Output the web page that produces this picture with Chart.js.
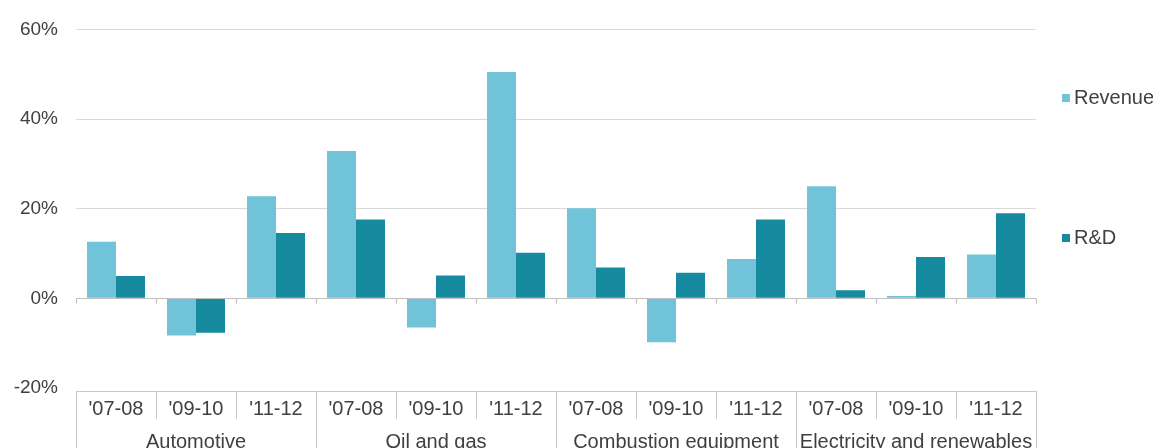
<!DOCTYPE html>
<html>
<head>
<meta charset="utf-8">
<title>Revenue and R&amp;D growth</title>
<script src="https://cdn.jsdelivr.net/npm/chart.js@4.4.0/dist/chart.umd.min.js"></script>
<style>
    body { margin: 0; background: #fff; }
    canvas { display: block; }
</style>
</head>
<body>
<canvas id="myChart" width="1153" height="448"></canvas>
<script>
// Kategorien und Werte
const periods = ["'07-08", "'09-10", "'11-12"];
const groups = ['Automotive', 'Oil and gas', 'Combustion equipment', 'Electricity and renewables'];
const revenue = [12.6, -8.3, 22.8, 32.9, -6.5, 50.5, 20.1, -9.8, 8.8, 25.0, 0.5, 9.8];
const rnd = [5.0, -7.7, 14.6, 17.6, 5.1, 10.2, 6.9, 5.7, 17.6, 1.8, 9.2, 19.0];
const yTicks = [-20, 0, 20, 40, 60];

const labels = [];
groups.forEach(g => periods.forEach(p => labels.push(p)));

const textColor = '#404040';
const lineColor = '#d9d9d9';
const font = '20px "Liberation Sans", Arial, sans-serif';

// Nulllinie mit Teilstrichen
const zeroAxis = {
    id: 'zeroAxis',
    afterDatasetsDraw(chart) {
        const { ctx, chartArea, scales } = chart;
        const y0 = Math.round(scales.y.getPixelForValue(0)) + 0.5;
        const step = (chartArea.right - chartArea.left) / labels.length;
        ctx.save();
        ctx.strokeStyle = '#bfbfbf';
        ctx.lineWidth = 1;
        ctx.beginPath();
        ctx.moveTo(chartArea.left, y0);
        ctx.lineTo(chartArea.right, y0);
        for (let i = 0; i <= labels.length; i++) {
            const x = Math.round(chartArea.left + i * step) + 0.5;
            ctx.moveTo(x, y0);
            ctx.lineTo(x, y0 + 5);
        }
        ctx.stroke();
        ctx.restore();
    }
};

// Zweistufige Kategorieachse als Tabelle
const categoryTable = {
    id: 'categoryTable',
    afterDraw(chart) {
        const { ctx, chartArea } = chart;
        const step = (chartArea.right - chartArea.left) / labels.length;
        const top = chartArea.bottom + 3;
        const mid = top + 28;
        const bottom = chart.height;
        ctx.save();
        ctx.strokeStyle = '#c8c8c8';
        ctx.lineWidth = 1;
        ctx.beginPath();
        ctx.moveTo(chartArea.left, top + 0.5);
        ctx.lineTo(chartArea.right, top + 0.5);
        for (let i = 0; i <= labels.length; i++) {
            const x = Math.round(chartArea.left + i * step) + 0.5;
            ctx.moveTo(x, top);
            ctx.lineTo(x, i % periods.length === 0 ? bottom : mid);
        }
        ctx.stroke();

        ctx.fillStyle = textColor;
        ctx.font = font;
        ctx.textAlign = 'center';
        ctx.textBaseline = 'middle';
        labels.forEach((l, i) => {
            ctx.fillText(l, chartArea.left + (i + 0.5) * step, top + 18);
        });
        groups.forEach((g, i) => {
            const x = chartArea.left + (i + 0.5) * step * periods.length;
            ctx.fillText(g, x, top + 51);
        });
        ctx.restore();
    }
};

// Legende rechts
const sideLegend = {
    id: 'sideLegend',
    afterDraw(chart) {
        const { ctx } = chart;
        const ys = [98, 238];
        ctx.save();
        ctx.font = font;
        ctx.textBaseline = 'middle';
        chart.data.datasets.forEach((ds, i) => {
            ctx.fillStyle = ds.backgroundColor;
            ctx.fillRect(1062, ys[i] - 4, 8, 8);
            ctx.fillStyle = textColor;
            ctx.fillText(ds.label, 1074, ys[i]);
        });
        ctx.restore();
    }
};

const ctx = document.getElementById('myChart').getContext('2d');
new Chart(ctx, {
    type: 'bar',
    data: {
        labels: labels,
        datasets: [
            {
                label: 'Revenue',
                data: revenue,
                backgroundColor: '#70c3d9',
                categoryPercentage: 0.725,
                barPercentage: 1.0
            },
            {
                label: 'R&D',
                data: rnd,
                backgroundColor: '#168a9e',
                categoryPercentage: 0.725,
                barPercentage: 1.0
            }
        ]
    },
    options: {
        responsive: false,
        animation: false,
        layout: {
            padding: { top: 27, right: 117, bottom: 60, left: 0 }
        },
        plugins: {
            legend: { display: false },
            tooltip: { enabled: false }
        },
        scales: {
            x: {
                display: false
            },
            y: {
                min: -20,
                max: 60,
                afterFit: scale => { scale.width = 76; },
                afterBuildTicks: scale => {
                    scale.ticks = yTicks.map(v => ({ value: v }));
                },
                border: { display: false },
                grid: {
                    color: c => (c.tick && c.tick.value <= 0) ? 'rgba(0,0,0,0)' : lineColor,
                    drawTicks: false
                },
                ticks: {
                    padding: 18,
                    color: textColor,
                    font: { family: '"Liberation Sans", Arial, sans-serif', size: 19 },
                    callback: v => v + '%'
                }
            }
        }
    },
    plugins: [zeroAxis, categoryTable, sideLegend]
});
</script>
</body>
</html>
